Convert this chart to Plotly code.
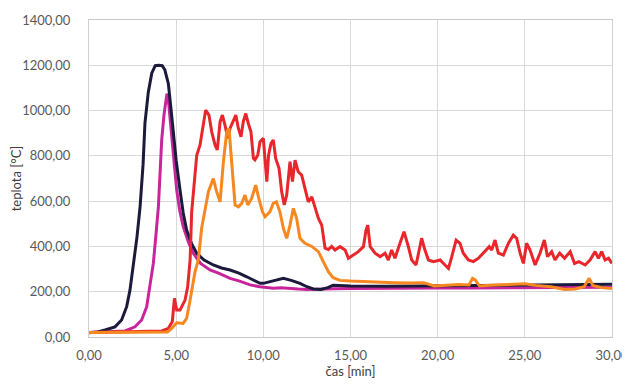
import plotly.graph_objects as go

# time [min] and temperature [°C] per measured curve
black_t = [0, 0.5, 0.92, 1.49, 1.87, 2.16, 2.35, 2.54, 2.75, 2.93,
           3.1, 3.21, 3.4, 3.6, 3.8, 4.0, 4.2, 4.35, 4.55, 4.7,
           4.84, 5.0, 5.22, 5.4, 5.6, 5.9, 6.18, 6.6, 7.13, 7.6,
           8.09, 8.6, 9.05, 9.5, 9.81, 10.0, 10.4, 10.8, 11.15, 11.6,
           12.1, 12.5, 12.87, 13.3, 13.7, 14.0, 15, 17, 19, 21,
           23, 25, 27, 29, 30]
black_T = [19, 22, 31, 45, 75, 134, 207, 310, 440, 575,
           760, 945, 1080, 1165, 1198, 1200, 1198, 1180, 1120, 1010,
           900, 780, 649, 550, 472, 410, 370, 340, 318, 305,
           296, 282, 266, 250, 237, 237, 245, 255, 259, 250,
           237, 222, 212, 210, 218, 229, 225, 224, 225, 226,
           227, 228, 230, 232, 233]

magenta_t = [0, 1.0, 2.07, 2.64, 3.02, 3.31, 3.5, 3.69, 3.85, 3.98,
             4.1, 4.17, 4.3, 4.42, 4.47, 4.55, 4.74, 4.9, 5.03, 5.2,
             5.41, 5.7, 5.98, 6.4, 6.94, 7.5, 8.09, 8.6, 9.24, 9.8,
             10.57, 11.0, 11.5, 12.0, 12.5, 13.0, 14, 15, 16, 18,
             20, 22, 24, 26, 28, 30]
magenta_T = [20, 22, 27, 45, 75, 134, 222, 325, 460, 575,
             760, 870, 980, 1061, 1075, 1050, 900, 760, 649, 560,
             487, 420, 370, 325, 296, 280, 259, 248, 230, 222,
             215, 218, 214, 212, 210, 212, 213, 214, 215, 215,
             216, 216, 217, 218, 219, 220]

red_t = [0, 2.0, 4.17, 4.55, 4.78, 4.9, 5.03, 5.22, 5.51, 5.66,
         5.8, 5.89, 6.18, 6.37, 6.56, 6.69, 6.88, 7.04, 7.23, 7.36,
         7.52, 7.65, 7.80, 7.96, 8.09, 8.28, 8.42, 8.57, 8.72, 8.85,
         8.99, 9.14, 9.29, 9.43, 9.52, 9.68, 9.81, 10.0, 10.1, 10.2,
         10.3, 10.44, 10.57, 10.71, 10.9, 11.05, 11.2, 11.34, 11.53, 11.67,
         11.82, 12.0, 12.2, 12.39, 12.58, 12.78, 12.97, 13.16, 13.35, 13.54,
         13.73, 13.92, 14.11, 14.4, 14.69, 14.88, 15.16, 15.45, 15.74, 15.89,
         15.99, 16.13, 16.41, 16.7, 16.98, 17.17, 17.36, 17.55, 17.84, 18.07,
         18.32, 18.51, 18.76, 18.95, 19.08, 19.27, 19.47, 19.76, 20.14, 20.42,
         20.62, 20.81, 21.06, 21.28, 21.47, 21.76, 22.05, 22.34, 22.62, 22.96,
         23.1, 23.29, 23.48, 23.77, 24.06, 24.34, 24.53, 24.73, 24.92, 25.1,
         25.3, 25.59, 25.87, 26.12, 26.3, 26.54, 26.73, 27.0, 27.28, 27.6,
         27.85, 28.1, 28.46, 28.74, 29.03, 29.22, 29.41, 29.6, 29.8, 30.0]
red_T = [20, 22, 27, 38, 68, 171, 119, 119, 163, 222,
         340, 553, 803, 848, 951, 1002, 980, 906, 848, 826,
         951, 980, 936, 877, 921, 951, 980, 921, 884, 951,
         987, 943, 906, 789, 782, 803, 862, 877, 789, 686,
         803, 855, 870, 789, 745, 642, 583, 627, 774, 686,
         781, 730, 715, 656, 597, 619, 568, 524, 494, 392,
         386, 400, 384, 399, 384, 348, 362, 377, 399, 472,
         494, 399, 370, 355, 370, 340, 384, 348, 414, 465,
         399, 340, 318, 399, 436, 384, 340, 333, 340, 318,
         303, 355, 428, 414, 370, 340, 333, 348, 370, 399,
         384, 428, 370, 362, 414, 450, 436, 370, 325, 414,
         384, 318, 370, 428, 355, 377, 340, 370, 348, 377,
         325, 333, 318, 340, 377, 348, 377, 340, 348, 325]

orange_t = [0, 2.0, 4.5, 4.74, 5.03, 5.4, 5.6, 5.8, 5.98, 6.08,
            6.27, 6.46, 6.85, 7.13, 7.32, 7.52, 7.71, 7.90, 8.03, 8.18,
            8.38, 8.57, 8.76, 8.95, 9.1, 9.33, 9.56, 9.72, 9.95, 10.1,
            10.38, 10.57, 10.75, 10.95, 11.15, 11.34, 11.53, 11.72, 11.91, 12.1,
            12.39, 12.78, 13.16, 13.44, 13.73, 14.0, 14.4, 15.0, 15.74, 16.5,
            17.5, 18.5, 19.2, 19.8, 20.5, 21.2, 21.8, 22.0, 22.15, 22.4,
            23.0, 24.0, 25.0, 25.6, 26.5, 27.3, 27.9, 28.4, 28.69, 28.9,
            29.4, 30.0]
orange_T = [20, 20, 22, 38, 63, 60, 82, 163, 252, 288,
            340, 480, 642, 700, 642, 597, 774, 906, 921, 774,
            583, 575, 590, 627, 583, 612, 671, 619, 553, 531,
            553, 590, 597, 553, 480, 436, 494, 568, 524, 436,
            414, 400, 377, 333, 288, 262, 250, 247, 244, 244,
            240, 238, 240, 225, 230, 232, 230, 259, 252, 225,
            228, 232, 235, 228, 222, 210, 212, 222, 259, 228,
            218, 214]

y_ticks = [0, 200, 400, 600, 800, 1000, 1200, 1400]
x_ticks = [0, 5, 10, 15, 20, 25, 30]

series = [
    (magenta_t, magenta_T, "#c8259d"),
    (black_t, black_T, "#1b1a3c"),
    (red_t, red_T, "#e8262b"),
    (orange_t, orange_T, "#f7881f"),
]

fig = go.Figure()
for t, T, c in series:
    fig.add_trace(go.Scatter(x=t, y=T, mode="lines",
                             line=dict(color=c, width=3),
                             showlegend=False, hoverinfo="skip"))

font = "Lato, 'Open Sans', sans-serif"
# page body has an 8px default margin, so the figure is 8px smaller
fig.update_layout(
    width=622, height=377,
    margin=dict(l=81, r=18, t=12, b=48),
    paper_bgcolor="white", plot_bgcolor="white",
    separators=", ",
    font=dict(family=font, size=13, color="#595959"),
    showlegend=False,
)
fig.update_xaxes(
    range=[0, 30], tickvals=x_ticks, tickformat=".2f", automargin=False,
    showgrid=True, gridcolor="#d9d9d9", gridwidth=1,
    showline=True, linecolor="#c8c8c8", linewidth=1, mirror=True,
    zeroline=False, ticks="", ticklabelstandoff=6,
    title=dict(text="čas [min]", standoff=5,
               font=dict(family=font, size=13, color="#404040")),
)
fig.update_yaxes(
    range=[0, 1400], tickvals=y_ticks, tickformat=".2f", automargin=False,
    showgrid=True, gridcolor="#d9d9d9", gridwidth=1,
    showline=True, linecolor="#d0d0d0", linewidth=1, mirror=True,
    zeroline=False, ticks="", ticklabelstandoff=15,
    title=dict(text="teplota [°C]", standoff=1,
               font=dict(family=font, size=13, color="#404040")),
)

fig.write_html("out.html")
